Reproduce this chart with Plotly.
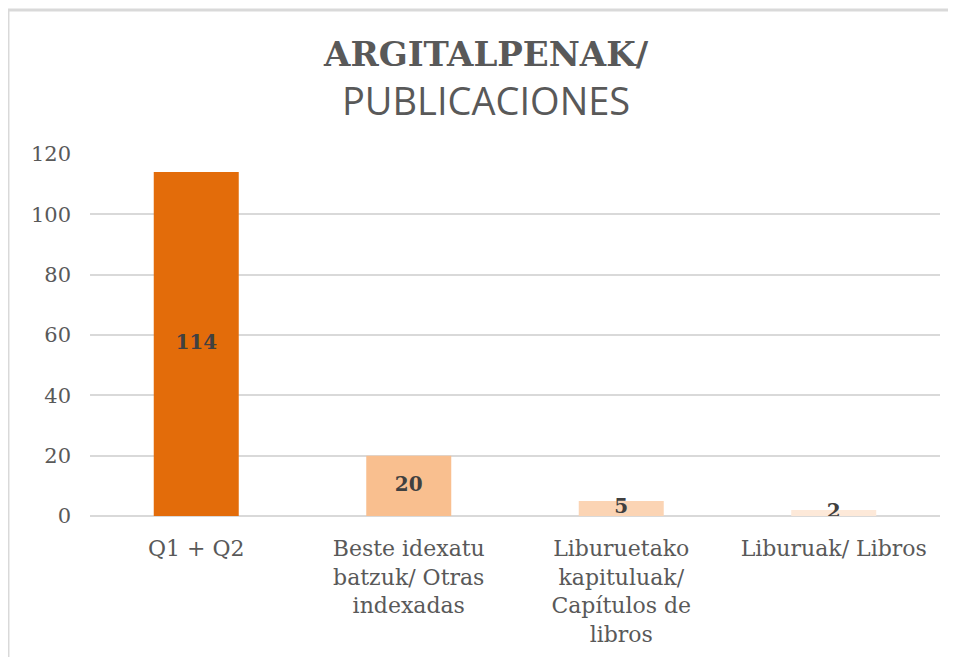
import plotly.graph_objects as go

# Datos
categories = [
    "Q1 + Q2",
    "Beste idexatu<br>batzuk/ Otras<br>indexadas",
    "Liburuetako<br>kapituluak/<br>Capítulos de<br>libros",
    "Liburuak/ Libros",
]
values = [114, 20, 5, 2]
bar_colors = ["#E36C0A", "#F9BF8F", "#FBD4B4", "#FDE9D9"]

title_top = "ARGITALPENAK/"
title_bottom = "PUBLICACIONES"

y_ticks = [0, 20, 40, 60, 80, 100, 120]

grey = "#595959"
serif = "DejaVu Serif"

fig = go.Figure()

fig.add_trace(go.Bar(
    x=categories,
    y=values,
    marker=dict(color=bar_colors, line=dict(width=0)),
    hoverinfo="skip",
))

# etiquetas centradas en cada barra
fig.add_trace(go.Scatter(
    x=categories,
    y=[v / 2 for v in values],
    mode="text",
    text=[str(v) for v in values],
    textfont=dict(family=serif, size=20, color="#404040", weight="bold"),
    hoverinfo="skip",
))

fig.update_layout(
    width=956,
    height=657,
    margin=dict(l=82, r=24, t=146, b=149),
    paper_bgcolor="white",
    plot_bgcolor="white",
    showlegend=False,
    bargap=0.6,
    font=dict(family=serif, color=grey, size=18),
)

fig.update_xaxes(
    showgrid=False,
    showline=False,
    ticks="",
    ticklabelstandoff=17,
    tickfont=dict(family=serif, size=22, color=grey),
)
fig.update_yaxes(
    range=[0, 120],
    tickvals=y_ticks,
    showgrid=True,
    gridcolor="#D9D9D9",
    gridwidth=2,
    zeroline=True,
    zerolinecolor="#D9D9D9",
    zerolinewidth=2,
    showline=False,
    ticks="",
    ticklabelstandoff=18,
    tickfont=dict(family=serif, size=21, color=grey),
)

# titulo en dos lineas
fig.add_annotation(
    text=title_top, xref="paper", yref="paper",
    x=0.466, y=1.0, xanchor="center", yanchor="middle", yshift=100,
    showarrow=False,
    font=dict(family=serif, size=34, color=grey, weight="bold"),
)
fig.add_annotation(
    text=title_bottom, xref="paper", yref="paper",
    x=0.466, y=1.0, xanchor="center", yanchor="middle", yshift=54,
    showarrow=False,
    font=dict(family="Open Sans", size=38, color=grey),
)

# borde del grafico
fig.add_shape(type="line", xref="paper", yref="paper",
              x0=-0.0965, x1=1.05, y0=1.398, y1=1.398,
              line=dict(color="#D9D9D9", width=3))
fig.add_shape(type="line", xref="paper", yref="paper",
              x0=-0.0965, x1=-0.0965, y0=1.398, y1=-0.45,
              line=dict(color="#D9D9D9", width=3))

fig.write_html("out.html")
